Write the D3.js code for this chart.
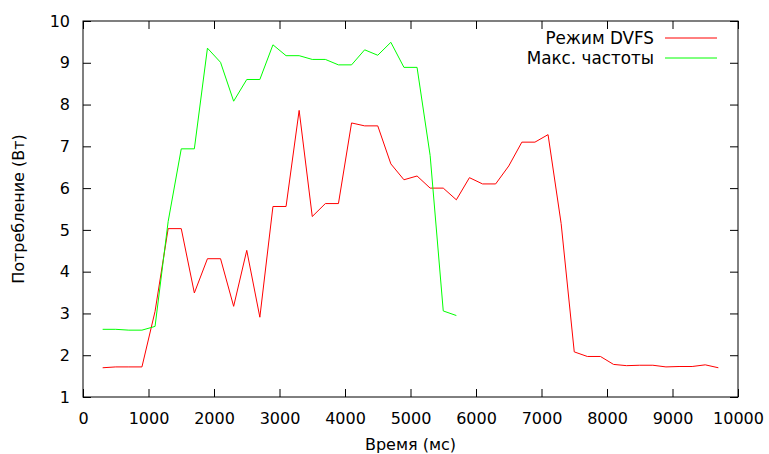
<!DOCTYPE html>
<html>
<head>
<meta charset="utf-8">
<script src="https://cdn.jsdelivr.net/npm/d3@7"></script>
<style>
  body { margin: 0; background: #fff; }
  text { font-family: "DejaVu Sans", sans-serif; font-size: 16px; fill: #000; }
  .legend text { font-size: 16.8px; }
</style>
</head>
<body>
<div id="vis1"></div>
<script>
// ----------DATA----------------
const TIME_DVFS = [300, 500, 700, 900, 1100, 1300, 1500, 1700, 1900, 2100, 2300, 2500, 2700, 2900, 3100, 3300,
  3500, 3700, 3900, 4100, 4300, 4500, 4700, 4900, 5100, 5300, 5500, 5700, 5900, 6100, 6300, 6500, 6700, 6900,
  7100, 7300, 7500, 7700, 7900, 8100, 8300, 8500, 8700, 8900, 9100, 9300, 9500, 9700];
const POWER_DVFS = [1.70, 1.72, 1.72, 1.72, 3.05, 5.03, 5.03, 3.49, 4.31, 4.31, 3.17, 4.51, 2.91, 5.56, 5.56, 7.86,
  5.32, 5.63, 5.63, 7.56, 7.49, 7.49, 6.58, 6.20, 6.29, 6.00, 6.00, 5.72, 6.25, 6.10, 6.10, 6.53, 7.10, 7.10,
  7.28, 5.15, 2.08, 1.97, 1.97, 1.78, 1.75, 1.76, 1.76, 1.72, 1.73, 1.73, 1.77, 1.70];

const TIME_MAX = [300, 500, 700, 900, 1100, 1300, 1500, 1700, 1900, 2100, 2300, 2500, 2700, 2900, 3100, 3300,
  3500, 3700, 3900, 4100, 4300, 4500, 4700, 4900, 5100, 5300, 5500, 5700];
const POWER_MAX = [2.62, 2.62, 2.60, 2.60, 2.69, 5.20, 6.94, 6.94, 9.35, 9.01, 8.08, 8.60, 8.60, 9.43, 9.17, 9.17,
  9.08, 9.08, 8.95, 8.95, 9.31, 9.18, 9.49, 8.89, 8.89, 6.78, 3.06, 2.95];

const X_TICKS = [0, 1000, 2000, 3000, 4000, 5000, 6000, 7000, 8000, 9000, 10000];
const Y_TICKS = [1, 2, 3, 4, 5, 6, 7, 8, 9, 10];

const SERIES_NAMES = ["Режим DVFS", "Макс. частоты"];
const SERIES_COLORS = ["#ff0000", "#00ff00"];

// ----------CONSTANTS FOR PAGE SETUP----------------
const FRAME_WIDTH = 769;
const FRAME_HEIGHT = 454;
const MARGINS = { left: 83, right: 31, top: 21, bottom: 57 };
const TICK = 8;

const VIS_WIDTH = FRAME_WIDTH - MARGINS.left - MARGINS.right;
const VIS_HEIGHT = FRAME_HEIGHT - MARGINS.top - MARGINS.bottom;

const FRAME1 = d3.select("#vis1")
  .append("svg")
  .attr("width", FRAME_WIDTH)
  .attr("height", FRAME_HEIGHT);

const xScale = d3.scaleLinear().domain([0, 10000]).range([0, VIS_WIDTH]);
const yScale = d3.scaleLinear().domain([1, 10]).range([VIS_HEIGHT, 0]);

const plot = FRAME1.append("g")
  .attr("transform", `translate(${MARGINS.left},${MARGINS.top})`);

// ticks on all four sides, pointing inward (gnuplot style)
function styleAxis(g) {
  g.select(".domain").remove();
  g.selectAll(".tick line").attr("stroke", "#000").attr("stroke-width", 1);
}

plot.append("g")
  .attr("transform", `translate(0,${VIS_HEIGHT})`)
  .call(d3.axisBottom(xScale).tickValues(X_TICKS).tickSize(-TICK).tickPadding(TICK + 8).tickFormat(d3.format("d")))
  .call(styleAxis)
  .call(g => g.selectAll("text").attr("font-size", null).attr("font-family", null));

plot.append("g")
  .call(d3.axisTop(xScale).tickValues(X_TICKS).tickSize(-TICK).tickFormat(""))
  .call(styleAxis);

plot.append("g")
  .call(d3.axisLeft(yScale).tickValues(Y_TICKS).tickSize(-TICK).tickPadding(TICK + 5).tickFormat(d3.format("d")))
  .call(styleAxis)
  .call(g => g.selectAll("text").attr("font-size", null).attr("font-family", null));

plot.append("g")
  .attr("transform", `translate(${VIS_WIDTH},0)`)
  .call(d3.axisRight(yScale).tickValues(Y_TICKS).tickSize(-TICK).tickFormat(""))
  .call(styleAxis);

plot.append("rect")
  .attr("x", 0).attr("y", 0)
  .attr("width", VIS_WIDTH).attr("height", VIS_HEIGHT)
  .attr("fill", "none").attr("stroke", "#000").attr("stroke-width", 1);

// ----------LINES----------------
const line = d3.line()
  .x(d => xScale(d[0]))
  .y(d => yScale(d[1]));

const seriesData = [
  d3.zip(TIME_DVFS, POWER_DVFS),
  d3.zip(TIME_MAX, POWER_MAX)
];

seriesData.forEach((s, i) => {
  plot.append("path")
    .datum(s)
    .attr("d", line)
    .attr("fill", "none")
    .attr("stroke", SERIES_COLORS[i])
    .attr("stroke-width", 1);
});

// ----------LEGEND----------------
const legend = plot.append("g").attr("class", "legend");
SERIES_NAMES.forEach((name, i) => {
  const y = 17 + i * 20;
  legend.append("text")
    .attr("x", 571)
    .attr("y", y)
    .attr("dy", "0.35em")
    .attr("text-anchor", "end")
    .text(name);
  legend.append("line")
    .attr("x1", 582).attr("x2", 634)
    .attr("y1", y).attr("y2", y)
    .attr("stroke", SERIES_COLORS[i])
    .attr("stroke-width", 1);
});

// ----------AXIS LABELS----------------
FRAME1.append("text")
  .attr("x", MARGINS.left + VIS_WIDTH / 2)
  .attr("y", 450)
  .attr("text-anchor", "middle")
  .text("Время (мс)");

FRAME1.append("text")
  .attr("transform", `translate(24,${MARGINS.top + VIS_HEIGHT / 2}) rotate(-90)`)
  .attr("text-anchor", "middle")
  .text("Потребление (Вт)");
</script>
</body>
</html>
